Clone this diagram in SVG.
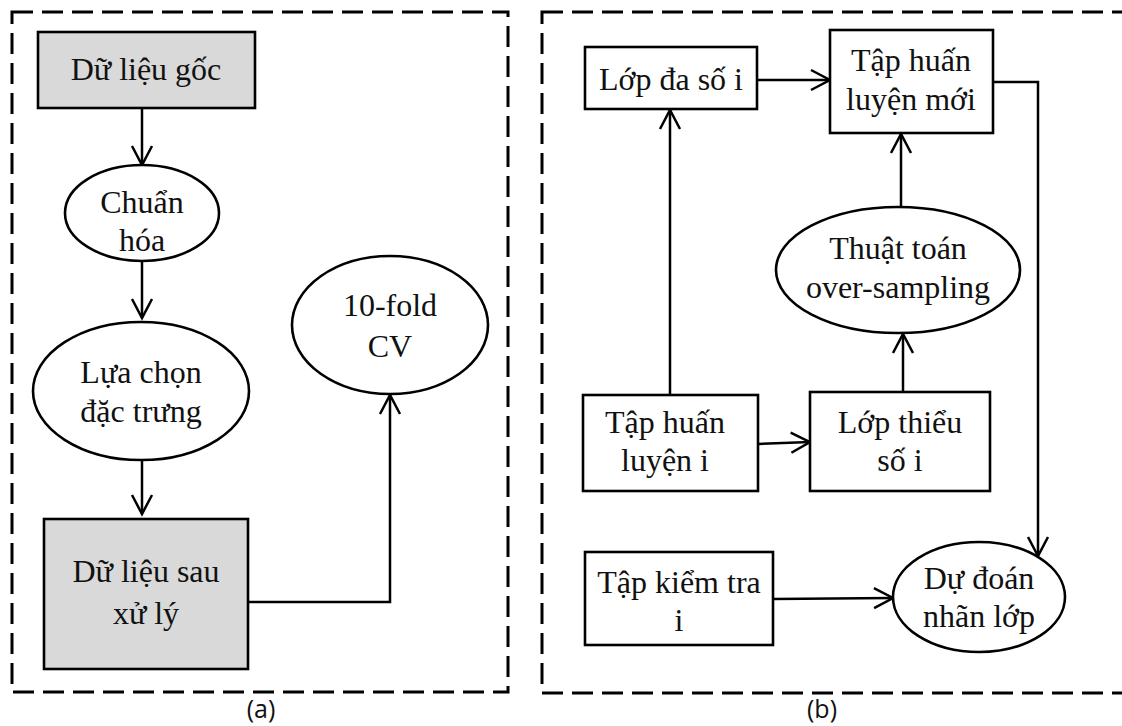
<svg xmlns="http://www.w3.org/2000/svg" width="1122" height="726" viewBox="0 0 1122 726">
<style>
.t{font-family:"Liberation Serif","Times New Roman",serif;font-size:32px;fill:#111;text-anchor:middle}
.lab{font-family:"Open Sans","Liberation Sans",sans-serif;font-size:25px;fill:#111;text-anchor:middle}
.box{fill:#fff;stroke:#000;stroke-width:2.6}
.gray{fill:#d9d9d9;stroke:#000;stroke-width:2.6}
.frame{fill:none;stroke:#000;stroke-width:3;stroke-dasharray:21 9}
.c{fill:none;stroke:#000;stroke-width:2.5}
</style>
<defs>
<marker id="ah" markerUnits="userSpaceOnUse" markerWidth="26" markerHeight="26" viewBox="0 0 26 26" refX="23" refY="13" orient="auto">
<path d="M4,3 L23,13 L4,23" fill="none" stroke="#000" stroke-width="2.5"/>
</marker>
</defs>
<rect width="1122" height="726" fill="#fff"/>
<rect class="frame" x="12" y="12" width="496" height="680"/>
<rect class="frame" x="542" y="12" width="600" height="681"/>
<text class="lab" x="261" y="718">(a)</text>
<text class="lab" x="822" y="718">(b)</text>

<g id="connectors">
<line class="c" x1="142" y1="108" x2="142" y2="165" marker-end="url(#ah)"/>
<line class="c" x1="142" y1="262" x2="142" y2="318" marker-end="url(#ah)"/>
<line class="c" x1="142" y1="460" x2="142" y2="514" marker-end="url(#ah)"/>
<polyline class="c" points="248,602 390,602 390,395" marker-end="url(#ah)"/>
<line class="c" x1="757" y1="80" x2="830" y2="80" marker-end="url(#ah)"/>
<polyline class="c" points="993,82 1038,82 1038,556" marker-end="url(#ah)"/>
<line class="c" x1="901" y1="208" x2="901" y2="134" marker-end="url(#ah)"/>
<line class="c" x1="903" y1="392" x2="903" y2="334" marker-end="url(#ah)"/>
<line class="c" x1="670" y1="395" x2="670" y2="110" marker-end="url(#ah)"/>
<line class="c" x1="758" y1="444" x2="810" y2="442" marker-end="url(#ah)"/>
<line class="c" x1="773" y1="599" x2="893" y2="598" marker-end="url(#ah)"/>
</g>

<g id="n-goc">
<rect class="gray" x="38" y="32" width="217" height="76"/>
<text class="t" x="146" y="80">Dữ liệu gốc</text>
</g>
<g id="n-chuanhoa">
<ellipse class="box" cx="142" cy="213" rx="77" ry="48"/>
<text class="t" x="142" y="213">Chuẩn</text>
<text class="t" x="142" y="251">hóa</text>
</g>
<g id="n-luachon">
<ellipse class="box" cx="141" cy="391" rx="108" ry="69"/>
<text class="t" x="141" y="383">Lựa chọn</text>
<text class="t" x="141" y="422">đặc trưng</text>
</g>
<g id="n-sauxuly">
<rect class="gray" x="44" y="519" width="204" height="150"/>
<text class="t" x="146" y="582">Dữ liệu sau</text>
<text class="t" x="146" y="624">xử lý</text>
</g>
<g id="n-cv">
<ellipse class="box" cx="390" cy="325" rx="98" ry="69"/>
<text class="t" x="390" y="316">10-fold</text>
<text class="t" x="390" y="357">CV</text>
</g>

<g id="n-dasos">
<rect class="box" x="585" y="47" width="172" height="62"/>
<text class="t" x="671" y="90">Lớp đa số i</text>
</g>
<g id="n-tapmoi">
<rect class="box" x="830" y="30" width="163" height="103"/>
<text class="t" x="911" y="71">Tập huấn</text>
<text class="t" x="911" y="110">luyện mới</text>
</g>
<g id="n-oversampling">
<ellipse class="box" cx="898" cy="270" rx="122" ry="63"/>
<text class="t" x="898" y="259">Thuật toán</text>
<text class="t" x="898" y="298">over-sampling</text>
</g>
<g id="n-taphuanluyen">
<rect class="box" x="583" y="395" width="175" height="96"/>
<text class="t" x="665" y="433">Tập huấn</text>
<text class="t" x="665" y="471">luyện i</text>
</g>
<g id="n-thieuso">
<rect class="box" x="810" y="392" width="180" height="99"/>
<text class="t" x="900" y="433">Lớp thiểu</text>
<text class="t" x="900" y="471">số i</text>
</g>
<g id="n-kiemtra">
<rect class="box" x="585" y="552" width="188" height="93"/>
<text class="t" x="679" y="593">Tập kiểm tra</text>
<text class="t" x="679" y="631">i</text>
</g>
<g id="n-dudoan">
<ellipse class="box" cx="979" cy="597" rx="86" ry="55"/>
<text class="t" x="979" y="589">Dự đoán</text>
<text class="t" x="979" y="627">nhãn lớp</text>
</g>
</svg>
